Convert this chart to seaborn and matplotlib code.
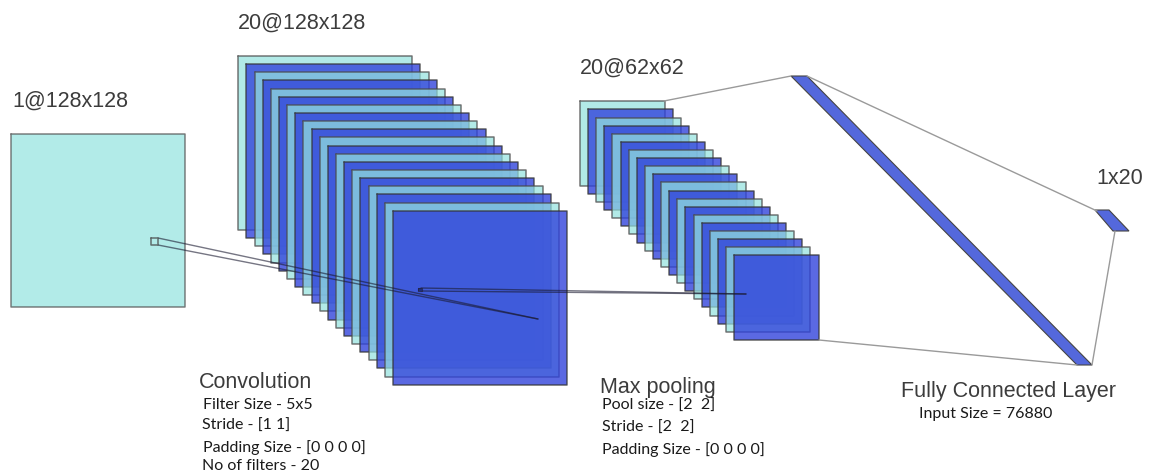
import pandas as pd
import matplotlib.pyplot as plt
import seaborn as sns

# layer stacks, in picture pixels
stack_names = ["conv", "pool"]
stack_left = [238.3, 580.0]
stack_top = [56.0, 101.3]
stack_size = [174.0, 84.5]
stack_layers = [20, 20]
stack_step = [8.14, 8.11]

input_box = [11, 134, 174, 173]
filter_box = [151, 238, 7, 7]
conv_marker = [417.5, 287.5, 4, 3.5]

# fully connected bars (x, y corners)
fc_x = [791, 807, 1092, 1077]
fc_y = [76, 76, 365, 365]
out_x = [1095, 1109, 1129, 1113]
out_y = [210, 210, 231, 231]

# connector lines
link_x0 = [158, 158, 421, 421, 664, 807, 1115, 819]
link_y0 = [238, 245, 288, 291, 101, 76, 231, 340]
link_x1 = [538, 538, 746, 746, 791, 1097, 1092, 1077]
link_y1 = [319, 319, 294, 294, 76, 211, 365, 365]
link_dark = [1, 1, 1, 1, 0, 0, 0, 0]

headings = ["1@128x128", "20@128x128", "20@62x62", "1x20", "Convolution", "Max pooling", "Fully Connected Layer"]
heading_x = [12, 238, 580, 1096, 199, 600, 901]
heading_y = [101, 23, 68, 179, 383, 387, 391]

notes = ["Filter Size - 5x5", "Stride - [1 1]", "Padding Size - [0 0 0 0]", "No of filters - 20",
         "Pool size - [2  2]", "Stride - [2  2]", "Padding Size - [0 0 0 0]", "Input Size = 76880"]
note_x = [203, 202, 203, 202, 602, 602, 602, 919]
note_y = [405, 426, 448, 466, 406, 428, 450, 414]

CYAN = "#b2ebe8"
LAYER_CYAN = "#95e3df"
LAYER_BLUE = "#2f41db"
BAR_BLUE = "#5468dc"

sns.set_theme(style="white")
fig, ax = plt.subplots(figsize=(11.5, 4.75), dpi=100)
ax.set_position([0, 0, 1, 1])


def draw_box(x, y, w, h, color, alpha, edge="#4a4a4a", z=2, lw=1.1):
    ax.fill([x, x + w, x + w, x], [y, y, y + h, y + h], facecolor=color, alpha=alpha,
            edgecolor="none", zorder=z)
    ax.plot([x, x + w, x + w, x, x], [y, y, y + h, y + h, y], color=edge, lw=lw, alpha=0.75, zorder=z)


draw_box(*input_box, CYAN, 1, edge="#555555")

z = 3
for i in range(len(stack_names)):
    for n in range(stack_layers[i]):
        x = stack_left[i] + n * stack_step[i]
        y = stack_top[i] + n * stack_step[i]
        if n % 2 == 0:
            draw_box(x, y, stack_size[i], stack_size[i], LAYER_CYAN, 0.72, z=z)
        else:
            draw_box(x, y, stack_size[i], stack_size[i], LAYER_BLUE, 0.79, edge="#333333", z=z)
        z += 1

ax.fill(fc_x, fc_y, facecolor=BAR_BLUE, edgecolor="#444444", lw=0.8, zorder=z)
ax.fill(out_x, out_y, facecolor=BAR_BLUE, edgecolor="#444444", lw=0.8, zorder=z)

# connector lines through seaborn
links = pd.DataFrame({
    "x": link_x0 + link_x1,
    "y": link_y0 + link_y1,
    "link": list(range(len(link_x0))) * 2,
    "dark": link_dark * 2,
})
links = links.sort_values("link", kind="stable")
sns.lineplot(data=links[links.dark == 0], x="x", y="y", units="link", estimator=None, sort=False,
             color="#9a9a9a", lw=1.0, ax=ax, zorder=z + 1, legend=False)
sns.lineplot(data=links[links.dark == 1], x="x", y="y", units="link", estimator=None, sort=False,
             color="#1a1a30", lw=1.0, alpha=0.6, ax=ax, zorder=z + 1, legend=False)
ax.set_xlim(0, 1150)
ax.set_ylim(475, 0)
ax.axis("off")

draw_box(*filter_box, CYAN, 1, edge="#444444", z=z + 2)
draw_box(*conv_marker, "#1f2f80", 1, edge="#222244", z=z + 2, lw=0.8)

for t, x, y in zip(headings, heading_x, heading_y):
    ax.text(x, y, t, fontsize=15.5, family="Liberation Sans", color="#3c3c3c", va="center", ha="left", zorder=z + 3)
for t, x, y in zip(notes, note_x, note_y):
    ax.text(x, y, t, fontsize=11.5, family="Lato", color="#1a1a1a", va="center", ha="left", zorder=z + 3)

fig.savefig("out.png", dpi=100, facecolor="white")
